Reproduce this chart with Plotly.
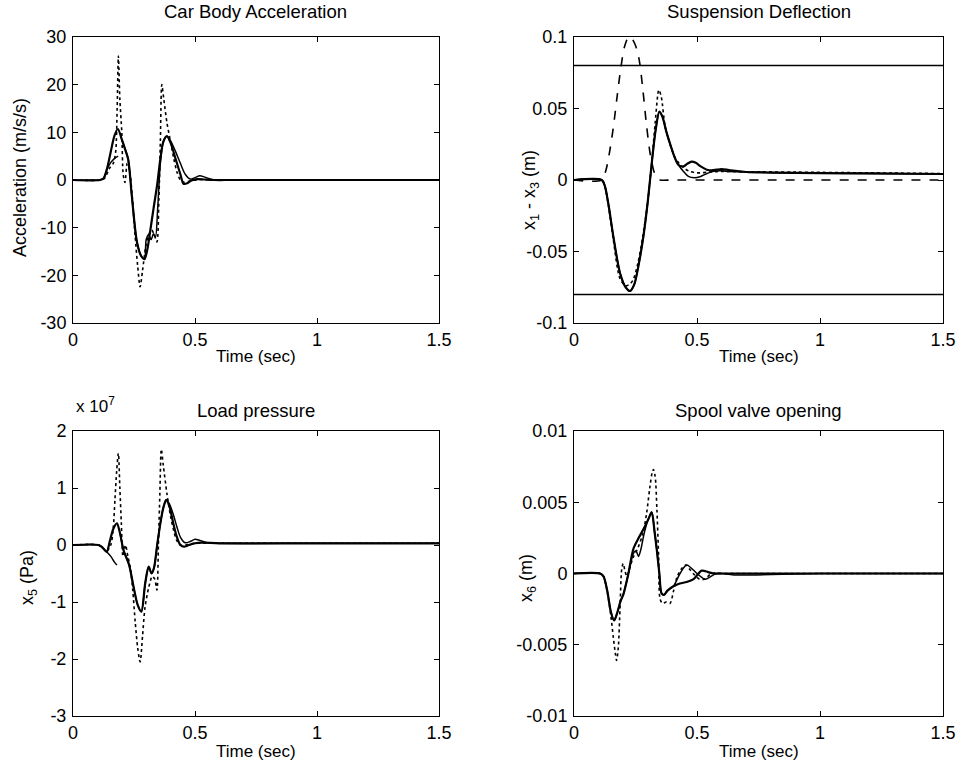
import plotly.graph_objects as go
from plotly.subplots import make_subplots

# ---- Car Body Acceleration (m/s/s) ----
t_acc_a = [0, 0.11, 0.125, 0.14, 0.155, 0.17, 0.184, 0.2, 0.213, 0.226, 0.241, 0.262, 0.28, 0.293,
           0.305, 0.317, 0.33, 0.345, 0.358, 0.37, 0.385, 0.40, 0.42, 0.44, 0.453, 0.468, 0.485,
           0.51, 0.54, 0.58, 0.65, 1.0, 1.5]
acc_a = [0, 0, 0.3, 2.5, 6, 9.3, 10.7, 8.5, 6.5, 4.4, -3.3, -13, -16, -16.6,
         -14.5, -10.5, -6, -1, 4.4, 8, 9.2, 7.8, 4.5, 1.2, -0.8, -0.7, -0.1,
         0.2, 0.1, 0, 0, 0, 0]
t_acc_b = [0, 0.11, 0.125, 0.14, 0.155, 0.17, 0.185, None,
           0.2, 0.226, 0.241, 0.262, 0.28, 0.293, 0.3, 0.31, 0.32, 0.33, 0.338, 0.347, 0.358,
           0.37, 0.385, 0.4, 0.42, 0.44, 0.46, 0.48, 0.5, 0.52, 0.54, 0.57, 0.62, 1.0, 1.5]
acc_b = [0, 0, 0.3, 2.3, 3.7, 4.5, 5.0, None,
         8.5, 4.4, -3.3, -13, -16, -16.6, -12.5, -11.5, -12.5, -11.3, -12, -6, 3.5,
         8, 9.2, 8.2, 6, 3.5, 1.2, 0.2, 0.5, 0.9, 0.6, 0.1, 0, 0, 0]
t_acc_d = [0, 0.11, 0.13, 0.15, 0.165, 0.175, 0.181, 0.186, 0.192, 0.2, 0.206, 0.213, 0.222,
           0.232, 0.242, 0.255, 0.265, 0.275, 0.285, 0.298, 0.31, 0.322, 0.333, 0.344, 0.352,
           0.358, 0.364, 0.372, 0.385, 0.4, 0.413, 0.426, 0.44, 0.455, 0.48, 0.52, 0.6, 1.0, 1.5]
acc_d = [0, 0, 0.4, 2.5, 3.5, 6, 15, 26, 17, 10, 1, -0.5, 3.5,
         2, -3, -12, -18, -22.4, -19, -14, -11.5, -10.5, -11.5, -13, -4,
         8, 20, 17, 12, 8, 4.5, 1.7, 0, -0.5, -0.2, 0.1, 0, 0, 0]

# ---- Suspension Deflection x1 - x3 (m) ----
t_def_a = [0, 0.113, 0.125, 0.14, 0.16, 0.187, 0.21, 0.228, 0.245, 0.262, 0.282, 0.3, 0.316,
           0.332, 0.347, 0.36, 0.375, 0.39, 0.41, 0.425, 0.445, 0.462, 0.478, 0.495, 0.515,
           0.54, 0.56, 0.58, 0.6, 0.63, 0.7, 0.8, 1.0, 1.2, 1.5]
def_a = [0, 0, -0.004, -0.017, -0.0396, -0.065, -0.075, -0.0776, -0.073, -0.06, -0.0396, -0.015, 0.0117,
         0.035, 0.0478, 0.044, 0.034, 0.0256, 0.0155, 0.0105, 0.0095, 0.0115, 0.0128, 0.012, 0.0095,
         0.0072, 0.0068, 0.0072, 0.0076, 0.007, 0.0056, 0.0052, 0.0048, 0.0046, 0.0042]
t_def_b = [0, 0.113, 0.125, 0.14, 0.16, 0.187, 0.21, 0.228, 0.245, 0.262, 0.282, 0.3, 0.316,
           0.332, 0.347, 0.36, 0.375, 0.39, 0.41, 0.425, 0.445, 0.465, 0.49, 0.515, 0.54,
           0.56, 0.58, 0.6, 0.63, 0.7, 0.8, 1.0, 1.2, 1.5]
def_b = [0, 0, -0.004, -0.017, -0.0396, -0.065, -0.075, -0.0776, -0.073, -0.06, -0.0396, -0.015, 0.0117,
         0.035, 0.0478, 0.044, 0.034, 0.0256, 0.0155, 0.0105, 0.006, 0.0025, 0.0016, 0.0025, 0.0045,
         0.0058, 0.0063, 0.0064, 0.006, 0.0056, 0.0052, 0.0048, 0.0046, 0.0042]
t_def_d = [0, 0.113, 0.125, 0.14, 0.16, 0.187, 0.21, 0.225, 0.24, 0.26, 0.28, 0.3, 0.316, 0.33,
           0.345, 0.355, 0.37, 0.39, 0.41, 0.43, 0.45, 0.47, 0.5, 0.55, 0.6, 0.7, 0.9, 1.2, 1.5]
def_d = [0, 0, -0.004, -0.018, -0.042, -0.069, -0.074, -0.073, -0.07, -0.058, -0.039, -0.015, 0.012, 0.04,
         0.063, 0.058, 0.038, 0.025, 0.016, 0.011, 0.008, 0.006, 0.005, 0.0055, 0.006, 0.0058, 0.0055, 0.005, 0.0045]
t_road = [0, 0.113, 0.13, 0.145, 0.16, 0.175, 0.19, 0.205, 0.222, 0.235, 0.25, 0.265, 0.28, 0.295,
          0.31, 0.325, 0.338, 0.35, 0.4, 0.6, 0.9, 1.2, 1.5]
road = [0, 0, 0.007, 0.02, 0.037, 0.058, 0.078, 0.093, 0.1, 0.099, 0.094, 0.084, 0.063, 0.038,
        0.018, 0.006, 0.001, 0, 0, 0, 0, 0, 0]
t_limit = [0, 1.5]
def_limit = 0.08

# ---- Load pressure x5 (x 1e7 Pa) ----
t_p_a = [0, 0.104, 0.12, 0.138, 0.15, 0.165, 0.18, 0.193, 0.207, 0.23, 0.248, 0.265, 0.28, 0.296,
         0.31, 0.322, 0.332, 0.345, 0.358, 0.37, 0.382, 0.395, 0.41, 0.425, 0.44, 0.455, 0.475,
         0.5, 0.53, 0.6, 1.0, 1.5]
p_a = [0, 0, -0.04, -0.12, 0.05, 0.28, 0.38, 0.2, -0.09, -0.35, -0.73, -1.05, -1.17, -0.67,
       -0.38, -0.5, -0.4, 0, 0.38, 0.65, 0.79, 0.68, 0.4, 0.15, 0.0, -0.03, 0.0,
       0.03, 0.04, 0.03, 0.03, 0.03]
t_p_b = [0, 0.104, 0.12, 0.138, 0.155, 0.17, 0.18, None,
         0.193, 0.207, 0.23, 0.248, 0.265, 0.28, 0.296, 0.31, 0.322, 0.332, 0.345, 0.358, 0.37,
         0.382, 0.395, 0.41, 0.425, 0.44, 0.46, 0.48, 0.5, 0.52, 0.55, 0.6, 1.0, 1.5]
p_b = [0, 0, -0.04, -0.12, -0.2, -0.3, -0.35, None,
       0.2, -0.09, -0.35, -0.73, -1.05, -1.17, -0.67, -0.38, -0.5, -0.4, 0, 0.38, 0.65,
       0.79, 0.72, 0.55, 0.33, 0.14, 0.04, 0.06, 0.1, 0.08, 0.04, 0.03, 0.03, 0.03]
t_p_d = [0, 0.104, 0.12, 0.14, 0.155, 0.165, 0.172, 0.179, 0.186, 0.192, 0.198, 0.205, 0.215,
         0.225, 0.235, 0.245, 0.255, 0.265, 0.275, 0.285, 0.295, 0.31, 0.325, 0.335, 0.344,
         0.35, 0.356, 0.362, 0.37, 0.385, 0.4, 0.413, 0.425, 0.44, 0.46, 0.5, 0.6, 1.0, 1.5]
p_d = [0, 0, -0.05, -0.1, 0.0, 0.3, 0.8, 1.3, 1.61, 1.0, 0.4, -0.2, 0.0,
       -0.2, -0.4, -0.8, -1.35, -1.8, -2.05, -1.6, -1.1, -0.75, -0.55, -0.6, -0.79,
       0.0, 0.9, 1.68, 1.4, 0.9, 0.5, 0.25, 0.08, 0.0, 0.0, 0.03, 0.03, 0.03, 0.03]

# ---- Spool valve opening x6 (m) ----
t_s_a = [0, 0.106, 0.12, 0.135, 0.15, 0.163, 0.175, 0.19, 0.2, 0.22, 0.241, 0.26, 0.282, 0.302,
         0.316, 0.327, 0.337, 0.347, 0.356, 0.366, 0.38, 0.404, 0.43, 0.458, 0.486, 0.519,
         0.545, 0.566, 0.6, 1.0, 1.5]
s_a = [0, 0, -0.0002, -0.0012, -0.0027, -0.0033, -0.0028, -0.0019, -0.0015, -0.0001, 0.0017, 0.0024, 0.0031, 0.0038,
       0.0043, 0.003, 0.0016, 0.0, -0.0014, -0.0015, -0.0012, -0.0009, -0.0007, -0.0006, -0.0004, 0.0002,
       0.0001, 0.0, 0.0, 0.0, 0.0]
t_s_b = [0, 0.106, 0.12, 0.135, 0.15, 0.163, 0.175, 0.19, 0.2, 0.22, 0.241, 0.252, 0.262, 0.272,
         0.285, 0.302, 0.316, 0.327, 0.337, 0.347, 0.356, 0.366, 0.38, 0.404, 0.431, 0.458,
         0.5, 0.533, 0.58, 0.65, 1.0, 1.5]
s_b = [0, 0, -0.0002, -0.0012, -0.0027, -0.0033, -0.0028, -0.0019, -0.0015, -0.0001, 0.0014, 0.0016, 0.0012, 0.0017,
       0.0028, 0.0038, 0.0043, 0.003, 0.0016, 0.0, -0.0014, -0.0015, -0.0012, -0.0009, 0.0, 0.0006,
       0.0, -0.0004, 0.0, -0.0001, 0.0, 0.0]
t_s_d = [0, 0.106, 0.12, 0.135, 0.15, 0.16, 0.168, 0.173, 0.18, 0.187, 0.194, 0.2, 0.207, 0.215,
         0.225, 0.24, 0.26, 0.28, 0.295, 0.308, 0.318, 0.323, 0.33, 0.337, 0.344, 0.35, 0.36,
         0.375, 0.39, 0.405, 0.42, 0.44, 0.455, 0.47, 0.49, 0.51, 0.53, 0.56, 0.6, 1.0, 1.5]
s_d = [0, 0, -0.0002, -0.0013, -0.003, -0.0045, -0.0056, -0.0061, -0.0052, -0.0025, 0.0003, 0.0007, 0.0002, -0.0002,
       0.0003, 0.0011, 0.0018, 0.0028, 0.0042, 0.006, 0.0071, 0.0073, 0.0068, 0.0045, 0.0012, -0.0018, -0.0021,
       -0.002, -0.0021, -0.0012, -0.0002, 0.0004, 0.0006, 0.0003, -0.0001, -0.0004, -0.0004, 0.0, 0.0, 0.0, 0.0]

titles = ['Car Body Acceleration', 'Suspension Deflection', 'Load pressure', 'Spool valve opening']
y_titles = ['Acceleration (m/s/s)', 'x<sub>1</sub> - x<sub>3</sub> (m)', 'x<sub>5</sub> (Pa)', 'x<sub>6</sub> (m)']
x_title = 'Time (sec)'
x_ticks = [0, 0.5, 1, 1.5]
x_ticktext = ['0', '0.5', '1', '1.5']
y_ticks = [[-30, -20, -10, 0, 10, 20, 30],
           [-0.1, -0.05, 0, 0.05, 0.1],
           [-3, -2, -1, 0, 1, 2],
           [-0.01, -0.005, 0, 0.005, 0.01]]
y_ticktext = [['-30', '-20', '-10', '0', '10', '20', '30'],
              ['-0.1', '-0.05', '0', '0.05', '0.1'],
              ['-3', '-2', '-1', '0', '1', '2'],
              ['-0.01', '-0.005', '0', '0.005', '0.01']]
y_ranges = [[-30, 30], [-0.1, 0.1], [-3, 2], [-0.01, 0.01]]

FONT = 'Liberation Sans'
W, H = 956, 769
fig = make_subplots(rows=2, cols=2)

solid = dict(color='black', width=2.2)
thin = dict(color='black', width=1.5)
dotted = dict(color='black', width=1.6, dash='dot')
dashed = dict(color='black', width=1.6, dash='dash')

def add(x, y, line, row, col):
    fig.add_trace(go.Scatter(x=x, y=y, mode='lines', line=dict(shape='spline', smoothing=0.8, **line),
                             connectgaps=False, showlegend=False, hoverinfo='skip'), row=row, col=col)

add(t_acc_d, acc_d, dotted, 1, 1)
add(t_acc_b, acc_b, thin, 1, 1)
add(t_acc_a, acc_a, solid, 1, 1)

add(t_limit, [def_limit, def_limit], thin, 1, 2)
add(t_limit, [-def_limit, -def_limit], thin, 1, 2)
add(t_road, road, dashed, 1, 2)
add(t_def_d, def_d, dotted, 1, 2)
add(t_def_b, def_b, thin, 1, 2)
add(t_def_a, def_a, solid, 1, 2)

add(t_p_d, p_d, dotted, 2, 1)
add(t_p_b, p_b, thin, 2, 1)
add(t_p_a, p_a, solid, 2, 1)

add(t_s_d, s_d, dotted, 2, 2)
add(t_s_b, s_b, thin, 2, 2)
add(t_s_a, s_a, solid, 2, 2)

# plot boxes in window pixels: (left, right, top, bottom)
boxes = [(73, 439, 37, 323), (574, 943, 37, 323), (73, 439, 431, 716), (574, 943, 431, 716)]
title_y = [12, 12, 410, 410]
xtitle_y = [356, 356, 751, 751]
ytitle_xy = [(20, 178), (530, 190), (28, 578), (527, 578)]

axis_common = dict(showline=True, linecolor='black', linewidth=1, mirror='ticks', ticks='inside',
                   ticklen=5, tickcolor='black', showgrid=False, zeroline=False, automargin=False,
                   tickfont=dict(family=FONT, size=18, color='black'))

def px(x):
    return x / W

def py(y):
    return 1 - y / H

for i in range(4):
    l, r, t, b = boxes[i]
    sfx = '' if i == 0 else str(i + 1)
    fig.layout['xaxis' + sfx].update(domain=[px(l), px(r)], range=[0, 1.5], tickvals=x_ticks,
                                     ticktext=x_ticktext, **axis_common)
    fig.layout['yaxis' + sfx].update(domain=[py(b), py(t)], range=y_ranges[i], tickvals=y_ticks[i],
                                     ticktext=y_ticktext[i], ticklabelstandoff=2, **axis_common)
    fig.add_annotation(text=titles[i], xref='paper', yref='paper',
                       x=px((l + r) / 2), y=py(title_y[i]), xanchor='center', yanchor='middle',
                       showarrow=False, font=dict(family=FONT, size=18.5, color='black'))
    fig.add_annotation(text=x_title, xref='paper', yref='paper',
                       x=px((l + r) / 2), y=py(xtitle_y[i]), xanchor='center', yanchor='middle',
                       showarrow=False, font=dict(family=FONT, size=17, color='black'))
    fig.add_annotation(text=y_titles[i], xref='paper', yref='paper', textangle=-90,
                       x=px(ytitle_xy[i][0]), y=py(ytitle_xy[i][1]), xanchor='center', yanchor='middle',
                       showarrow=False, font=dict(family=FONT, size=18, color='black'))

fig.add_annotation(text='x 10<sup>7</sup>', xref='paper', yref='paper',
                   x=px(74), y=py(405), xanchor='left', yanchor='middle',
                   showarrow=False, font=dict(family=FONT, size=17, color='black'))

fig.update_layout(width=W, height=H, margin=dict(l=0, r=0, t=0, b=0),
                  paper_bgcolor='white', plot_bgcolor='white',
                  font=dict(family=FONT, size=17, color='black'))

# drop the default 8px page margin so the figure sits in the window corner
fig.write_html("out.html", config={'displayModeBar': False},
               post_script="document.body.style.margin='0';document.body.style.overflow='hidden';")
